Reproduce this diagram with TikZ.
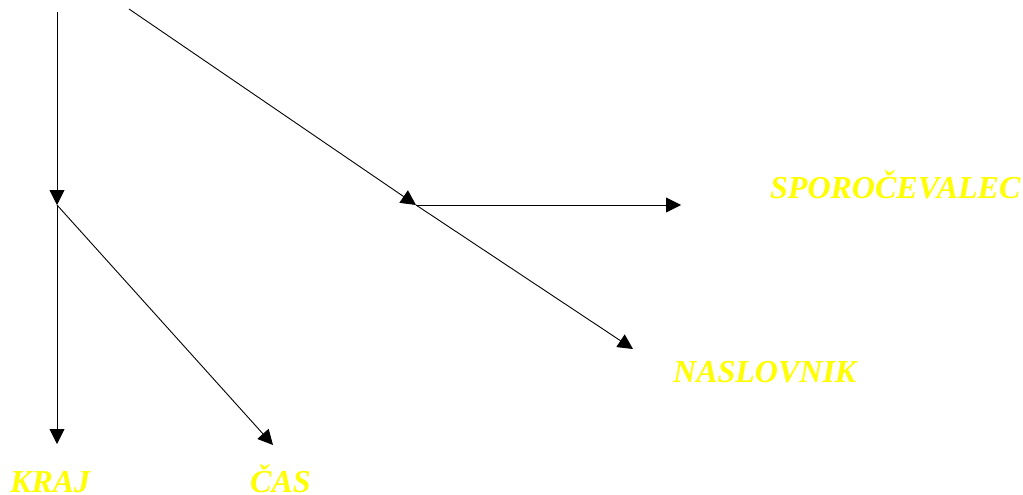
\documentclass[tikz,border=0pt]{standalone}
\usepackage{fontspec}
\setmainfont{Liberation Serif}
\usetikzlibrary{arrows.meta, positioning}
\definecolor{labelyellow}{RGB}{255,255,0}
\tikzset{
	arr/.style = {-{Triangle[length=15pt, width=15pt]}, line width=0.9pt},
	lbl/.style = {inner sep=0pt, anchor=base west, text=labelyellow,
		font=\fontsize{32}{38}\selectfont\bfseries\itshape}
}
\begin{document}
\begin{tikzpicture}[x=1pt, y=-1pt]
		\useasboundingbox (0,0) rectangle (1023,495);
		\coordinate (top1) at (57,12);
		\coordinate (top2) at (129,9);
		\coordinate (j1) at (57,205);
		\coordinate (j2) at (416,205);
		\coordinate (tkraj) at (57,444);
		\coordinate (tcas) at (273,445);
		\coordinate (tspor) at (681,205);
		\coordinate (tnasl) at (633,349);
		\draw (10,492) node[lbl] (kraj) {KRAJ}
		(250,492) node[lbl] (cas) {ČAS}
		(770,198) node[lbl] (spor) {SPOROČEVALEC}
		(673,382) node[lbl] (nasl) {NASLOVNIK};

		\draw[arr] (top1) -- (j1);
		\draw[arr] (top2) -- (j2);
		\draw[arr] (j1) -- (tkraj);
		\draw[arr] (j1) -- (tcas);
		\draw[arr] (j2) -- (tspor);
		\draw[arr] (j2) -- (tnasl);
	\end{tikzpicture}
\end{document}
